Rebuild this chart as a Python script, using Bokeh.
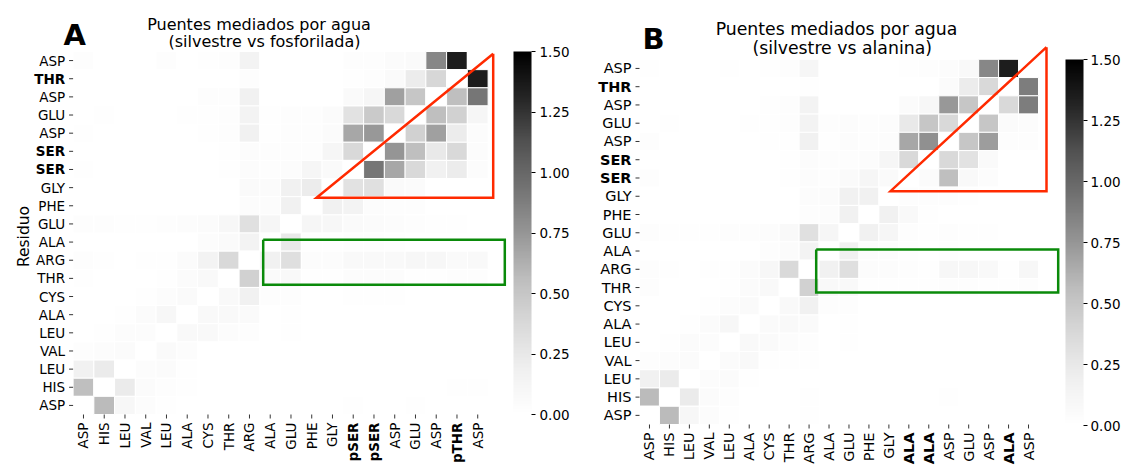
import math
from bokeh.plotting import figure
from bokeh.layouts import row
from bokeh.core.properties import value
from bokeh.models import (ColumnDataSource, LinearColorMapper, ColorBar, FixedTicker,
                          PrintfTickFormatter, Label, Range1d)
from bokeh.embed import file_html
from bokeh.resources import INLINE

# ---------------------------------------------------------------- data
# residue labels, rows listed top to bottom
y_labels = ["ASP", "THR", "ASP", "GLU", "ASP", "SER", "SER", "GLY", "PHE", "GLU",
            "ALA", "ARG", "THR", "CYS", "ALA", "LEU", "VAL", "LEU", "HIS", "ASP"]
y_bold = [1, 5, 6]

x_labels_a = ["ASP", "HIS", "LEU", "VAL", "LEU", "ALA", "CYS", "THR", "ARG", "ALA",
              "GLU", "PHE", "GLY", "pSER", "pSER", "ASP", "GLU", "ASP", "pTHR", "ASP"]
x_bold_a = [13, 14, 18]

x_labels_b = ["ASP", "HIS", "LEU", "VAL", "LEU", "ALA", "CYS", "THR", "ARG", "ALA",
              "GLU", "PHE", "GLY", "ALA", "ALA", "ASP", "GLU", "ASP", "ALA", "ASP"]
x_bold_b = [13, 14, 18]

# water-mediated bridge occupancy, wild type vs phosphorylated (rows top to bottom)
vals_a = [
    [.03, 0, 0, 0, .03, 0, .02, .03, .15, 0, 0, 0, 0, .03, .03, .05, .07, .83, 1.35, 0],
    [0, 0, 0, 0, 0, 0, 0, 0, .03, 0, 0, 0, 0, .02, .03, .06, .22, .39, 0, 1.35],
    [0, 0, 0, 0, 0, 0, .03, .03, .18, 0, 0, 0, 0, .06, .12, .70, .50, 0, .55, .92],
    [0, .02, 0, 0, 0, .02, .02, .03, .15, .02, .03, .03, .05, .30, .48, .38, 0, .55, .43, .12],
    [.02, 0, 0, 0, 0, 0, .02, .03, .18, .02, .03, .03, .05, .67, .74, 0, .43, .70, .22, .04],
    [0, 0, 0, 0, 0, 0, 0, .02, .04, .03, .03, .03, .12, .38, 0, .75, .55, .25, .38, .04],
    [.02, 0, 0, 0, 0, 0, 0, .02, .04, .03, .04, .12, .06, 0, .92, .67, .38, .17, .22, .04],
    [0, 0, 0, 0, 0, 0, 0, 0, .06, .05, .18, .22, 0, .30, .32, .06, .05, 0, 0, 0],
    [0, 0, 0, 0, 0, 0, 0, 0, .04, .04, .18, 0, .18, .15, .04, .03, .03, 0, 0, 0],
    [.03, .03, .02, .02, .03, .04, .05, .10, .32, .12, 0, .12, .10, .06, .05, .04, .03, .02, .02, 0],
    [0, 0, 0, 0, 0, 0, .04, .06, .15, 0, .25, .02, .02, .03, .03, .02, 0, 0, 0, 0],
    [.03, .02, 0, .02, .02, .05, .15, .38, 0, .17, .33, .04, .04, .08, .08, .08, .10, .10, .06, .08],
    [.02, 0, 0, 0, .02, .05, .08, 0, .43, .06, .08, .02, .02, .04, .04, .04, .02, .02, .03, .03],
    [0, 0, 0, .02, .04, .06, 0, .08, .17, .03, .03, 0, 0, .02, .02, .02, 0, 0, 0, 0],
    [0, 0, .02, .05, .10, 0, .08, .08, .06, 0, .02, 0, 0, 0, 0, 0, 0, 0, 0, 0],
    [0, .02, .04, .04, 0, .08, .08, .04, .03, 0, .02, 0, 0, 0, 0, 0, 0, 0, 0, 0],
    [.03, .04, .05, 0, .06, .04, .01, 0, 0, 0, 0, 0, 0, 0, 0, 0, 0, 0, 0, 0],
    [.17, .23, 0, .04, .05, .02, 0, 0, 0, 0, 0, 0, 0, 0, 0, 0, 0, 0, 0, 0],
    [.55, 0, .23, .05, .03, .02, 0, 0, 0, 0, 0, 0, 0, 0, 0, 0, .01, 0, .02, .02],
    [0, .57, .10, .04, .02, 0, 0, 0, 0, 0, 0, 0, 0, .02, 0, 0, .02, 0, 0, 0],
]

# water-mediated bridge occupancy, wild type vs alanine mutant (rows top to bottom)
vals_b = [
    [.02, 0, 0, 0, .02, 0, .02, .03, .12, 0, 0, 0, 0, .02, .03, .04, .08, .83, 1.35, 0],
    [0, 0, 0, 0, 0, 0, 0, 0, .02, 0, 0, 0, 0, 0, 0, .05, .22, .38, 0, .88],
    [0, 0, 0, 0, 0, 0, .02, .03, .15, 0, 0, 0, 0, .05, .10, .74, .50, 0, .38, .88],
    [0, .02, 0, 0, 0, .02, .02, .03, .15, .03, .04, .03, .04, .25, .50, .38, 0, .50, .05, .04],
    [.03, 0, 0, 0, 0, 0, .02, .02, .17, .02, .04, .03, .04, .67, .78, 0, .50, .72, .03, .03],
    [0, 0, 0, 0, 0, 0, 0, .02, .04, .03, .03, .04, .12, .38, 0, .38, .30, .06, 0, 0],
    [.03, 0, 0, 0, 0, 0, 0, .02, .04, .03, .06, .12, .06, 0, .05, .55, .08, .04, 0, 0],
    [0, 0, 0, 0, 0, 0, 0, 0, .04, .05, .17, .18, 0, .03, .03, .03, .02, 0, 0, 0],
    [0, 0, 0, 0, 0, 0, 0, 0, .03, .04, .17, 0, .18, .08, .02, 0, 0, 0, 0, 0],
    [.03, .02, .02, .02, .03, .03, .04, .08, .32, .12, 0, .17, .12, .03, .02, .03, .02, .02, 0, 0],
    [0, 0, 0, 0, 0, 0, .03, .05, .15, 0, .18, .04, .04, .02, 0, .02, 0, 0, 0, 0],
    [.03, .02, 0, .02, .02, .05, .10, .38, 0, .17, .33, .04, .04, .03, .02, .10, .10, .08, .02, .10],
    [.03, 0, 0, 0, .02, .05, .08, 0, .43, .08, .08, .02, .02, .02, .02, .03, .03, .02, .02, .03],
    [0, 0, 0, .02, .04, .06, 0, .08, .17, .03, .03, 0, .01, 0, 0, 0, 0, 0, 0, .01],
    [0, 0, .02, .05, .10, 0, .06, .08, .06, 0, .02, 0, .01, 0, 0, .01, 0, 0, 0, 0],
    [0, .02, .05, .04, 0, .08, .06, .04, .03, 0, .02, 0, 0, 0, 0, 0, 0, 0, 0, 0],
    [.03, .04, .05, 0, .05, .08, .02, .02, .02, 0, 0, 0, 0, 0, 0, 0, 0, 0, 0, 0],
    [.17, .23, 0, .04, .05, .02, 0, 0, 0, 0, 0, 0, 0, 0, 0, 0, 0, 0, 0, 0],
    [.57, 0, .23, .05, .03, 0, 0, 0, .02, 0, .01, 0, 0, 0, 0, .02, 0, 0, 0, 0],
    [0, .57, .10, .04, .02, 0, 0, 0, .02, 0, 0, 0, 0, 0, 0, .01, 0, 0, 0, 0],
]

cbar_ticks = [0.0, 0.25, 0.5, 0.75, 1.0, 1.25, 1.5]
v_low, v_high = 0.0, 1.5

# ---------------------------------------------------------------- styling
FONT = "DejaVu Sans"
GREYS_ANCHORS = ["#ffffff", "#f0f0f0", "#d9d9d9", "#bdbdbd", "#969696",
                 "#737373", "#525252", "#252525", "#000000"]
H = 468


def build_palette(anchors, n=256):
    rgb = [tuple(int(a[i:i + 2], 16) for i in (1, 3, 5)) for a in anchors]
    out = []
    for k in range(n):
        t = k / (n - 1) * (len(rgb) - 1)
        i = min(int(t), len(rgb) - 2)
        f = t - i
        c = [round(rgb[i][j] + (rgb[i + 1][j] - rgb[i][j]) * f) for j in range(3)]
        out.append("#%02x%02x%02x" % tuple(c))
    return out


PALETTE = build_palette(GREYS_ANCHORS)


def make_panel(vals, x_labels, x_bold, title1, title2, letter, geo, red_tri, green_box,
               ylabel=None):
    n = len(y_labels)
    off, width = geo["x0"], geo["width"]
    left, bottom_px = geo["left"], geo["bottom"]
    cw, ch = geo["cw"], geo["ch"]

    # page pixel -> heatmap cell coordinates (cell centres at integers)
    def X(px):
        return -0.5 + (px - left) / cw

    def Y(py):
        return -0.5 + (bottom_px - py) / ch

    p = figure(width=width, height=H, output_backend="svg", toolbar_location=None,
               x_range=Range1d(X(off), X(off + width)), y_range=Range1d(Y(H), Y(0)),
               x_axis_type=None, y_axis_type=None,
               min_border=0, min_border_left=0, min_border_right=0,
               min_border_top=0, min_border_bottom=0)
    p.outline_line_color = None
    p.grid.visible = False
    p.background_fill_color = "white"
    p.border_fill_color = "white"

    xs, ys, vs = [], [], []
    for r in range(n):
        for c in range(n):
            xs.append(c)
            ys.append(n - 1 - r)
            vs.append(vals[r][c])
    src = ColumnDataSource(dict(x=xs, y=ys, v=vs))
    mapper = LinearColorMapper(palette=PALETTE, low=v_low, high=v_high)
    p.rect("x", "y", width=1, height=1, source=src,
           fill_color={"field": "v", "transform": mapper},
           line_color="white", line_width=1)

    fs = geo["tick_fs"]
    tick_px, gap_px = 4, 4
    x0_edge, y0_edge = -0.5, -0.5

    # tick marks
    cols = list(range(n))
    p.segment(x0=cols, y0=[y0_edge] * n, x1=cols, y1=[y0_edge - tick_px / ch] * n,
              line_color="black", line_width=0.8)
    rows_y = [n - 1 - r for r in range(n)]
    p.segment(x0=[x0_edge] * n, y0=rows_y, x1=[x0_edge - tick_px / cw] * n, y1=rows_y,
              line_color="black", line_width=0.8)

    # residue tick labels
    lab_y = y0_edge - (tick_px + gap_px) / ch
    lab_x = x0_edge - (tick_px + gap_px) / cw
    for style, sel in (("normal", lambda i, b: i not in b), ("bold", lambda i, b: i in b)):
        xi = [c for c in cols if sel(c, x_bold)]
        p.text(x=xi, y=[lab_y] * len(xi), text=[x_labels[c] for c in xi],
               angle=math.pi / 2, text_align="right", text_baseline="middle",
               text_font=value(FONT), text_font_size=value(fs),
               text_font_style=style, text_color="black")
        ri = [r for r in range(n) if sel(r, y_bold)]
        p.text(x=[lab_x] * len(ri), y=[n - 1 - r for r in ri], text=[y_labels[r] for r in ri],
               text_align="right", text_baseline="middle",
               text_font=value(FONT), text_font_size=value(fs),
               text_font_style=style, text_color="black")

    if ylabel:
        p.add_layout(Label(x=X(geo["ylab"][0]), y=Y(geo["ylab"][1]), text=ylabel,
                           angle=math.pi / 2, text_align="center", text_baseline="middle",
                           text_font=FONT, text_font_size=geo["label_fs"],
                           text_color="black"))

    # highlighted regions
    tx = [X(v) for v in red_tri[0]]
    ty = [Y(v) for v in red_tri[1]]
    p.line(tx + tx[:1], ty + ty[:1], line_color="#ff2a00", line_width=2.5,
           line_join="miter")
    gx0, gy0, gx1, gy1 = green_box
    p.line([X(gx0), X(gx1), X(gx1), X(gx0), X(gx0)],
           [Y(gy0), Y(gy0), Y(gy1), Y(gy1), Y(gy0)],
           line_color="#0a8a0a", line_width=2.5, line_join="miter")

    # titles and panel letter
    for key, txt in (("t1", title1), ("t2", title2)):
        p.add_layout(Label(x=X(geo[key][0]), y=Y(geo[key][1]), text=txt,
                           text_align="center", text_baseline="middle",
                           text_font=FONT, text_font_size=geo["title_fs"],
                           text_color="black"))
    p.add_layout(Label(x=X(geo["letter"][0]), y=Y(geo["letter"][1]), text=letter,
                       text_align="left", text_baseline="middle",
                       text_font=FONT, text_font_size="29px", text_font_style="bold",
                       text_color="black"))

    cb = ColorBar(color_mapper=mapper, ticker=FixedTicker(ticks=cbar_ticks),
                  formatter=PrintfTickFormatter(format="%.2f"),
                  width=18, height=geo["cb_h"],
                  location=(geo["cb_x"] - off, H - geo["cb_bottom"]),
                  padding=0, margin=0, label_standoff=geo["cb_standoff"],
                  major_tick_out=4, major_tick_in=0, major_tick_line_color="black",
                  minor_tick_line_color=None, bar_line_color=None,
                  border_line_color=None, background_fill_color=None,
                  major_label_text_font=FONT, major_label_text_font_size=geo["cb_fs"],
                  major_label_text_color="black")
    p.add_layout(cb, "center")
    return p


# panel geometry in page pixels
geo_a = dict(x0=0, width=580, left=72.6, bottom=414, cw=20.75, ch=18.15,
             tick_fs="13.5px", title_fs="16px", cb_fs="13.5px", cb_standoff=4,
             label_fs="15.5px", ylab=(23, 236),
             t1=(258.5, 23.5), t2=(264, 41.3), letter=(63, 34.5),
             cb_x=513, cb_bottom=414, cb_h=363)
geo_b = dict(x0=580, width=542, left=639, bottom=424, cw=19.95, ch=18.26,
             tick_fs="14.5px", title_fs="17.3px", cb_fs="13.5px", cb_standoff=3,
             label_fs="16px",
             t1=(836, 28.8), t2=(841.7, 47.8), letter=(642, 38.8),
             cb_x=1065, cb_bottom=425, cb_h=366)

fig_a = make_panel(vals_a, x_labels_a, x_bold_a, "Puentes mediados por agua",
                   "(silvestre vs fosforilada)", "A", geo_a,
                   red_tri=((492.7, 492.7, 316), (53.3, 197.3, 197.3)),
                   green_box=(262.7, 239.3, 504.3, 284.3), ylabel="Residuo")
fig_b = make_panel(vals_b, x_labels_b, x_bold_b, "Puentes mediados por agua",
                   "(silvestre vs alanina)", "B", geo_b,
                   red_tri=((1046, 1046, 890), (46.7, 190.7, 190.7)),
                   green_box=(815.7, 249, 1057.7, 292))

layout = row(fig_a, fig_b)
open("out.html", "w").write(file_html(layout, INLINE))
